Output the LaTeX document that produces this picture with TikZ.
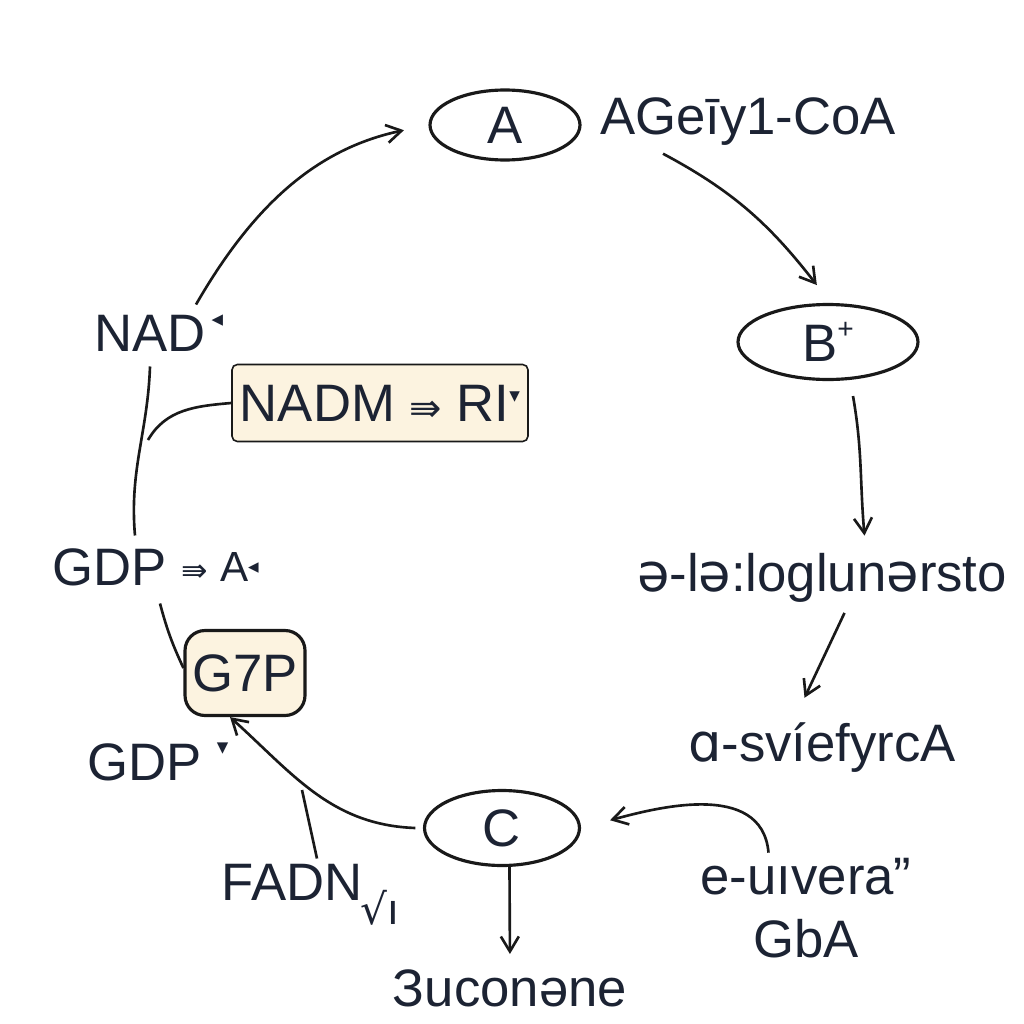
\documentclass[tikz,border=0pt]{standalone}
\usepackage{fontspec}
\setmainfont{Liberation Sans}
\newfontfamily\dvfont{DejaVu Sans}
\usetikzlibrary{arrows.meta,shapes.geometric,positioning}
\definecolor{ink}{HTML}{1C2333}
\definecolor{cream}{HTML}{FCF3E0}
\newcommand\sw{{\dvfont ə}}
\tikzset{
  stage/.style={draw=black!90, line width=1.8pt, ellipse, text=ink, inner sep=0pt,
    font=\fontsize{30}{34}\selectfont},
  lbl/.style={text=ink, inner sep=0pt, font=\fontsize{30}{36}\selectfont},
  smalllbl/.style={text=ink, inner sep=0pt, font=\dvfont\fontsize{13}{15}\selectfont},
  creambox/.style={draw=black!90, fill=cream, text=ink, inner sep=0pt,
    font=\fontsize{30}{34}\selectfont},
  flow/.style={draw=black!90, line width=1.5pt, -{Straight Barb[length=3mm,width=3.6mm]}},
  plain/.style={draw=black!90, line width=1.5pt},
}
\begin{document}
\begin{tikzpicture}[x=0.02cm,y=0.02cm]
\useasboundingbox[fill=white] (0,0) rectangle (1024,-1024);

% intermediates of the cycle
\node[stage, minimum width=3cm, minimum height=1.4cm] (A) at (505,-125) {A};
\node[lbl] (acetyl) at (748,-122) {AGeīy1-CoA};
\node[stage, minimum width=3.6cm, minimum height=1.5cm] (B) at (828,-342) {B\raisebox{0.45em}{\fontsize{16}{16}\selectfont +}};
\node[lbl] (akg) at (822,-578) {\sw-l\sw:loglun\sw rsto};
\node[lbl] (scoa) at (822,-748) {{\dvfont ɑ}-svíefyrcA};
\node[lbl, align=center] (euvera) at (806,-908) {e-uıvera”\\GbA};
\node[stage, minimum width=3.1cm, minimum height=1.5cm] (C) at (502,-828) {C};
\node[lbl] (succ) at (510,-988) {Зuconəne};

% left side cofactors
\node[lbl] (NAD) at (150,-333) {NAD};
\node[smalllbl] (nadmark) [right=3pt of NAD.north east, anchor=north west] {◂};
\node[creambox, rounded corners=3pt, line width=0.9pt,
  minimum width=5.92cm, minimum height=1.54cm] (NADM) at (380,-403)
  {NADM {\dvfont\fontsize{22}{22}\selectfont ⇛} RI\raisebox{0.35em}{\dvfont\fontsize{12}{12}\selectfont ▾}};
\node[lbl] (GDPa) at (110,-567) {GDP};
\node[lbl, font=\fontsize{24}{28}\selectfont] (gdparrow) [right=8pt of GDPa] {{\dvfont\fontsize{18}{18}\selectfont ⇛} A\raisebox{0.2em}{\dvfont\fontsize{12}{12}\selectfont ◂}};
\node[creambox, rounded corners=0.4cm, line width=1.8pt,
  minimum width=2.4cm, minimum height=1.7cm] (G7P) at (245,-673) {G7P};
\node[lbl] (GDPb) at (145,-762) {GDP};
\node[smalllbl] (gdpmark) [right=8pt of GDPb.north east, anchor=north west] {▾};
\node[lbl] (FADN) at (292,-882) {FADN};
\node[smalllbl, font=\dvfont\fontsize{24}{24}\selectfont] (fadnmark) at (380,-908) {√ı};

% connectors
\draw[flow, shorten >=0.5cm] ([xshift=-0.2cm,yshift=0.2cm]NAD.north east) to[out=60,in=192] (A.west);
\draw[flow, shorten >=0.2cm] ([xshift=-1.7cm,yshift=-0.15cm]acetyl.south) to[out=-28,in=128] ([xshift=-0.1cm,yshift=0.2cm]B.north);
\draw[flow] ([xshift=0.5cm,yshift=-0.3cm]B.south) to[out=-80,in=95] ([xshift=0.85cm,yshift=0.35cm]akg.north);
\draw[flow] ([xshift=0.45cm,yshift=-0.2cm]akg.south) -- ([xshift=-0.35cm,yshift=0.5cm]scoa.north);
\draw[flow, shorten >=0.6cm] ([xshift=-0.75cm,yshift=0.1cm]euvera.north) to[out=95,in=15] (C.east);
\draw[flow, shorten >=0.3cm] ([xshift=0.15cm]C.south) -- (succ.north);
\draw[flow] ([xshift=-0.15cm]C.west) to[out=178,in=-42] ([xshift=-0.3cm]G7P.south);
\coordinate (fadnbranch) at (302,-790);
\draw[plain] (fadnbranch) -- ([xshift=0.5cm,yshift=0.1cm]FADN.north);
\draw[plain] ([yshift=-0.3cm]NAD.south) to[out=-92,in=95] ([xshift=0.5cm,yshift=0.25cm]GDPa.north);
\draw[plain] ([xshift=1cm,yshift=-0.35cm]GDPa.south) to[out=-75,in=115] ([yshift=0.1cm]G7P.west);
\coordinate (nadmjoin) at (148,-440);
\draw[plain] (NADM.west) to[out=185,in=60] (nadmjoin);
\end{tikzpicture}
\end{document}
